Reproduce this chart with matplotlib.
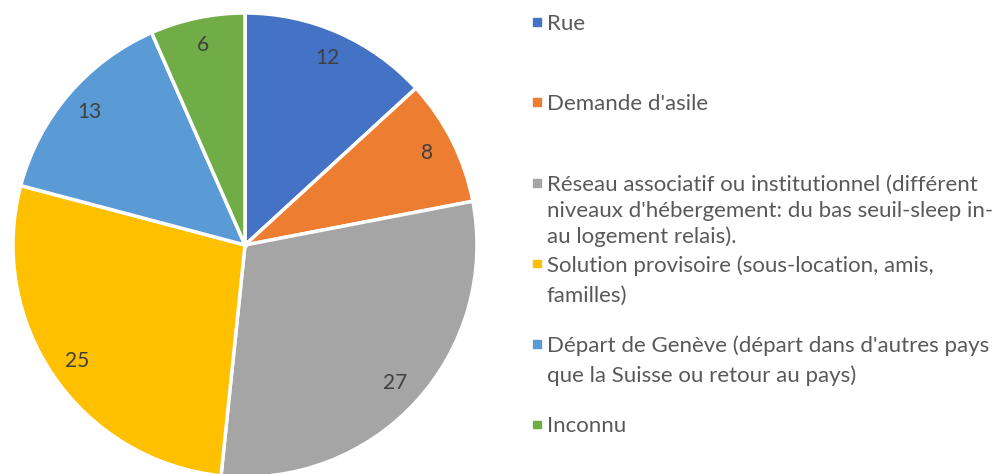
import matplotlib.pyplot as plt
from matplotlib.patches import Rectangle

# data
categories = [
    "Rue",
    "Demande d'asile",
    "Réseau associatif ou institutionnel (différent\nniveaux d'hébergement: du bas seuil-sleep in-\nau logement relais).",
    "Solution provisoire (sous-location, amis,\nfamilles)",
    "Départ de Genève (départ dans d'autres pays\nque la Suisse ou retour au pays)",
    "Inconnu",
]
values = [12, 8, 27, 25, 13, 6]
colors = ["#4472C4", "#ED7D31", "#A5A5A5", "#FFC000", "#5B9BD5", "#70AD47"]

W, H = 995, 474
fig = plt.figure(figsize=(W / 100, H / 100), dpi=100)

# pie: centre (245, 245) px from top, radius 232 px
cx, cy, r = 245, H - 245, 232
ax = fig.add_axes([(cx - r) / W, (cy - r) / H, 2 * r / W, 2 * r / H])
total = sum(values)
wedges, texts, autotexts = ax.pie(
    values, colors=colors, startangle=90, counterclock=False,
    autopct=lambda p: f"{p * total / 100:.0f}", pctdistance=0.88,
    wedgeprops=dict(edgecolor="white", linewidth=2.5),
    textprops=dict(color="#404040", fontsize=15, family="Lato"))
ax.set_xlim(-1, 1)
ax.set_ylim(-1, 1)
ax.set_aspect("equal")
ax.axis("off")

# legend, entries evenly spaced like the excel one
# (excel squeezes the 3-line entry a bit, hence the smaller line gap there)
first_line_y = [22, 102.5, 183, 263.5, 344, 424.5]
line_gap = [30, 30, 26, 30, 30, 30]
for lab, col, ypx, gap in zip(categories, colors, first_line_y, line_gap):
    yf = 1 - ypx / H
    fig.patches.append(Rectangle((533 / W, yf - 3.5 / H), 7.5 / W, 7.5 / H,
                                 transform=fig.transFigure, color=col))
    for k, line in enumerate(lab.split("\n")):
        fig.text(547 / W, 1 - (ypx + k * gap) / H, line, va="center_baseline",
                 ha="left", fontsize=16, color="#595959", family="Lato")

plt.savefig("out.png", dpi=100)
